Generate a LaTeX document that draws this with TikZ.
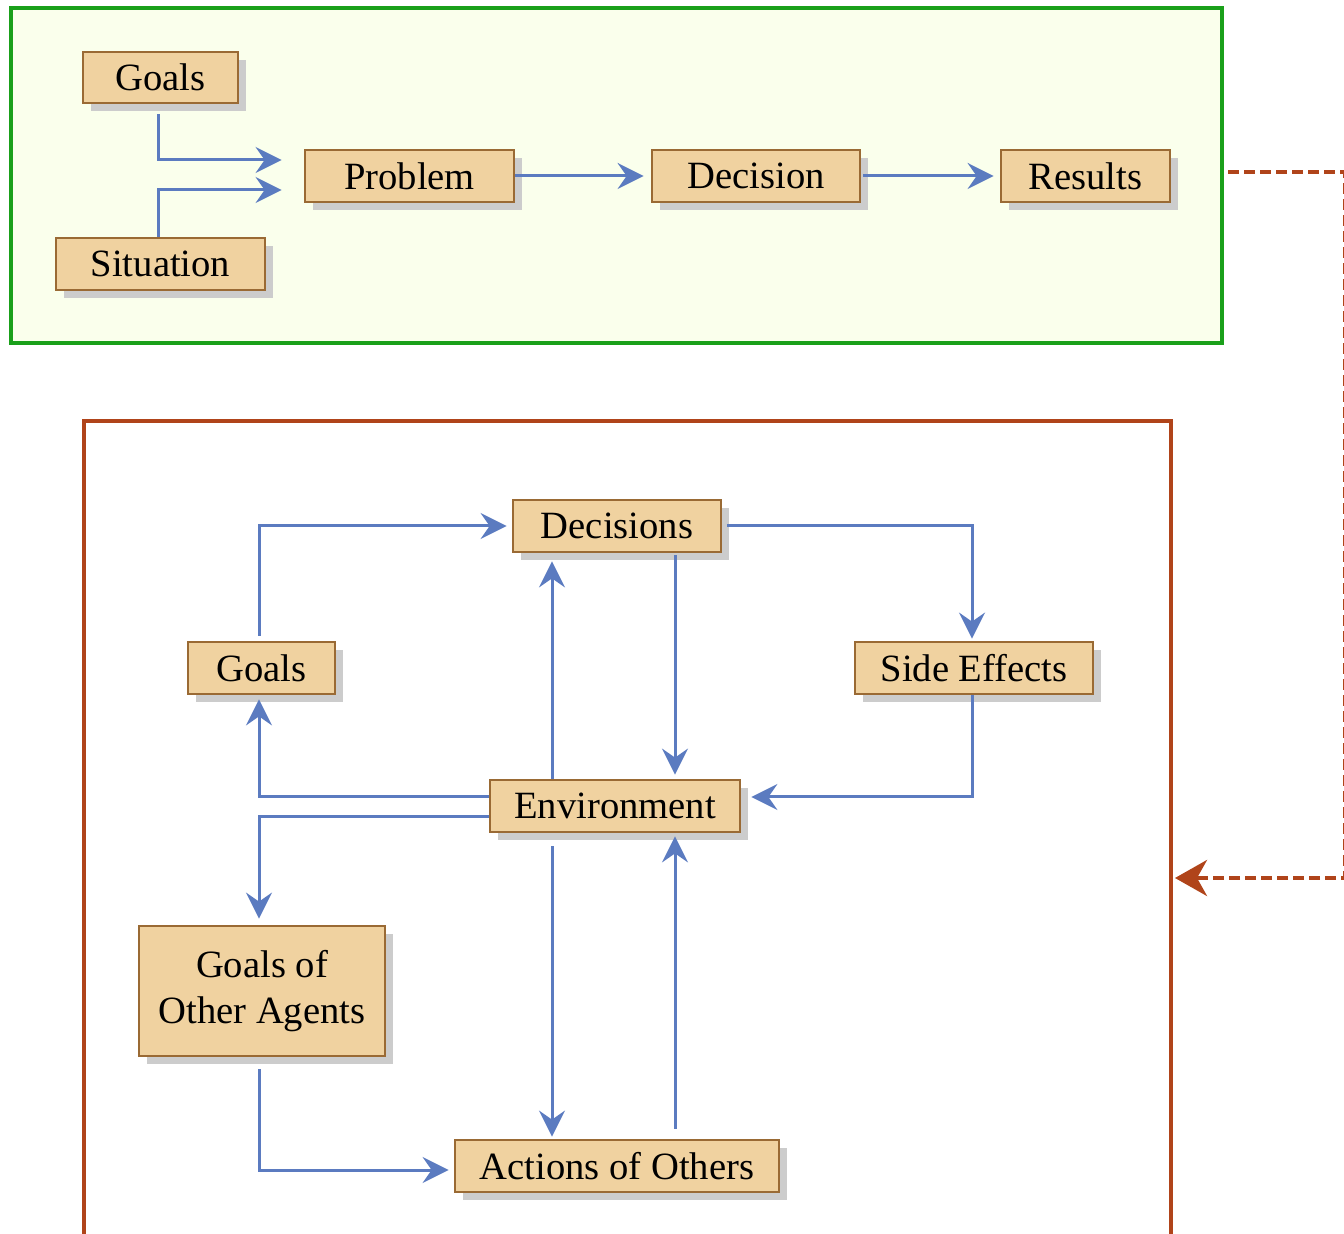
\documentclass[tikz,border=0pt]{standalone}
\usepackage{fontspec}
\setmainfont{Liberation Serif}
\usetikzlibrary{arrows.meta,shadows}
\definecolor{boxfill}{HTML}{F0D2A0}
\definecolor{boxdraw}{HTML}{9A6A34}
\definecolor{conncol}{HTML}{5B7BC0}
\definecolor{gframe}{HTML}{1AA01A}
\definecolor{gfill}{HTML}{FAFFEC}
\definecolor{rframe}{HTML}{B0441A}
\begin{document}
\begin{tikzpicture}[x=0.5pt,y=-0.5pt,
  box/.style={draw=boxdraw,fill=boxfill,line width=1.4pt,inner sep=0pt,
    font=\fontsize{19.3}{23}\selectfont,align=center,
    drop shadow={shadow xshift=4pt,shadow yshift=-4pt,fill=black!20,opacity=1}},
  conn/.style={draw=conncol,line width=1.5pt,-{Stealth[length=13pt,width=13pt,inset=4.5pt]}},
  frameg/.style={draw=gframe,fill=gfill,line width=2pt,inner sep=0pt},
  framer/.style={draw=rframe,line width=2pt,inner sep=0pt},
  dashconn/.style={draw=rframe,line width=2pt,dash pattern=on 5.5pt off 2.5pt,
    -{Stealth[length=16pt,width=18pt,inset=5pt]}}]
\clip (0,0) rectangle (1344,1234);
% frames
\node[frameg,minimum width=605.5pt,minimum height=167.5pt] (topf) at (616.5,175.5) {};
\node[framer,minimum width=543.5pt,minimum height=457pt] (lowf) at (627.5,878) {};
% top nodes
\node[box,minimum width=77.5pt,minimum height=25.5pt] (g1) at (160.5,77.5) {Goals};
\node[box,minimum width=104.5pt,minimum height=26pt] (sit) at (160.5,264) {Situation};
\node[box,minimum width=104.5pt,minimum height=26pt] (prob) at (409.5,176) {Problem};
\node[box,minimum width=104pt,minimum height=26pt] (dec1) at (756,176) {Decision};
\node[box,minimum width=84.5pt,minimum height=26pt] (res) at (1085.5,176) {Results};
% lower nodes
\node[box,minimum width=104pt,minimum height=26pt] (dec) at (617,526) {Decisions};
\node[box,minimum width=73.5pt,minimum height=26pt] (g2) at (261.5,668) {Goals};
\node[box,minimum width=119pt,minimum height=26pt] (side) at (974,668) {Side Effects};
\node[box,minimum width=125pt,minimum height=26pt] (env) at (615,806) {Environment};
\node[box,minimum width=123pt,minimum height=65pt] (goa) at (262,991) {Goals of\\Other Agents};
\node[box,minimum width=162pt,minimum height=26pt] (act) at (617,1166) {Actions of Others};
% top connectors
\draw[conn] ([xshift=-1.25pt,yshift=-5pt]g1.south) |- ([xshift=-11pt,yshift=8pt]prob.west);
\draw[conn] ([xshift=-1.25pt]sit.north) |- ([xshift=-11pt,yshift=-7pt]prob.west);
\draw[conn,shorten >=3.5pt] (prob.east) -- (dec1.west);
\draw[conn,shorten >=3pt] ([xshift=1pt]dec1.east) -- (res.west);
% lower connectors
\draw[conn] ([xshift=-1.25pt,yshift=2.5pt]g2.north) |- ([xshift=-2.5pt]dec.west);
\draw[conn] ([xshift=2.5pt]dec.east) -| ([xshift=-1pt,yshift=1pt]side.north);
\draw[conn] ([xshift=29pt,yshift=-1pt]dec.south) -- ([xshift=30pt,yshift=2pt]env.north);
\draw[conn] ([xshift=-31.5pt]env.north) -- ([xshift=-32.5pt,yshift=-4pt]dec.south);
\draw[conn] ([xshift=-1pt]side.south) |- ([xshift=5pt,yshift=4.5pt]env.east);
\draw[conn] ([yshift=4.5pt]env.west) -| ([xshift=-1.25pt,yshift=-2pt]g2.south);
\draw[conn] ([yshift=-5.5pt]env.west) -| ([xshift=-1.5pt,yshift=3pt]goa.north);
\draw[conn] ([xshift=-31.5pt,yshift=-6.5pt]env.south) -- ([xshift=-32.5pt,yshift=1pt]act.north);
\draw[conn] ([xshift=29pt,yshift=5pt]act.north) -- ([xshift=30pt,yshift=-1.5pt]env.south);
\draw[conn] ([xshift=-1.5pt,yshift=-6pt]goa.south) |- ([xshift=-2.5pt,yshift=-2pt]act.west);
% dashed link
\coordinate (c1) at (1345,172);
\coordinate (c2) at (1345,878);
\draw[dashconn,shorten >=1pt] ([xshift=2pt,yshift=1.75pt]topf.east) -- (c1) -- (c2) -- (lowf.east);
\end{tikzpicture}
\end{document}
